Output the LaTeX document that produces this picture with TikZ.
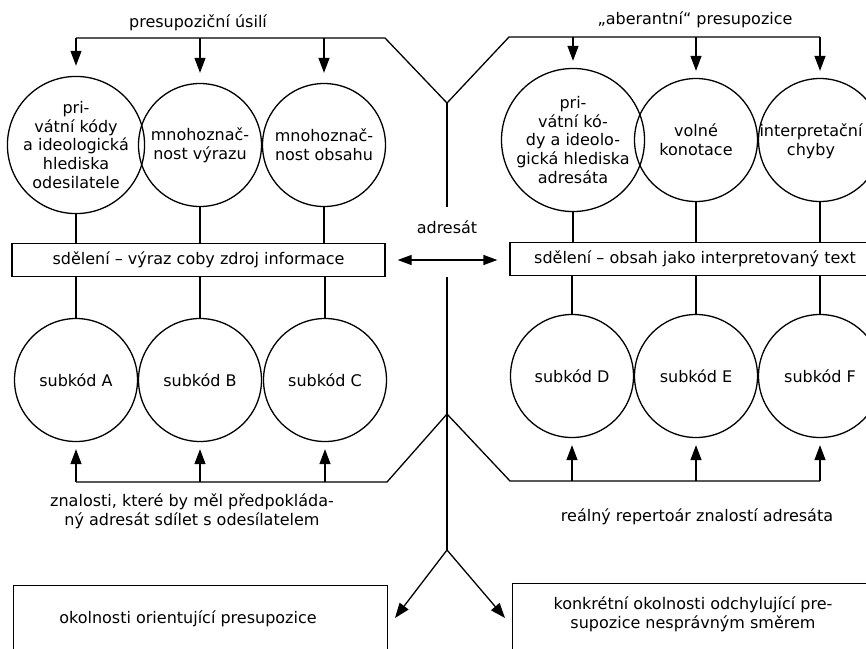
\documentclass[tikz,border=0pt]{standalone}
\usepackage{fontspec}
\setmainfont{DejaVu Sans}
\usetikzlibrary{arrows.meta}
\newcommand\txtf{\fontsize{16}{18.8}\selectfont}
\begin{document}
\begin{tikzpicture}[x=1pt,y=-1pt, line width=1.3pt,
  circ/.style={draw, circle, minimum size=123pt, inner sep=0pt, align=center, font=\txtf},
  bar/.style={draw, rectangle, inner sep=0pt, minimum height=33pt, font=\txtf},
  lbl/.style={align=center, font=\txtf, inner sep=0pt},
  boxx/.style={draw, rectangle, inner sep=0pt, anchor=north west, minimum height=100pt},
  arr/.style={-{Triangle[length=15pt,width=11pt]}},
  darr/.style={{Triangle[length=14pt,width=10pt]}-{Triangle[length=14pt,width=10pt]}}]
\useasboundingbox (0,0) rectangle (866,648);

% top row circles
\node[circ] (p1) at (76,145) {pri-\\vátní kódy\\a ideologická\\hlediska\\odesilatele};
\node[circ] (p2) at (200,145) {mnohoznač-\\nost výrazu};
\node[circ] (p3) at (324,145) {mnohoznač-\\nost obsahu};
\node[circ] (q1) at (573,140) {pri-\\vátní kó-\\dy a ideolo-\\gická hlediska\\adresáta};
\node[circ] (q2) at (696,140) {volné\\konotace};
\node[circ] (q3) at (820,140) {};
\node[lbl] (q3t) at (811,141) {interpretační\\chyby};

% bars
\node[bar, minimum width=373pt] (mL) at (198.5,260) {sdělení – výraz coby zdroj informace};
\node[bar, minimum width=370pt] (mR) at (695,259) {sdělení – obsah jako interpretovaný text};

% bottom row circles
\node[circ] (sA) at (76,380) {subkód A};
\node[circ] (sB) at (200,380) {subkód B};
\node[circ] (sC) at (325,380) {subkód C};
\node[circ] (sD) at (572,376) {subkód D};
\node[circ] (sE) at (696,376) {subkód E};
\node[circ] (sF) at (820,376) {subkód F};

% bottom boxes
\node[boxx, minimum width=374pt] (boxL) at (13,585) {};
\node[boxx, minimum width=380pt] (boxR) at (512,583) {};
\node[lbl] (tBL) at (188,619) {okolnosti orientující presupozice};
\node[lbl] (tBR) at (693,614) {konkrétní okolnosti odchylující pre-\\supozice nesprávným směrem};

% labels
\node[lbl] (lTop) at (198,23) {presupoziční úsilí};
\node[lbl] (rTop) at (695,20) {„aberantní“ presupozice};
\node[lbl] (adr) at (447,227) {adresát};
\node[lbl] (lBot) at (192,511) {znalosti, které by měl předpokláda-\\ný adresát sdílet s odesílatelem};
\node[lbl] (rBot) at (697,517) {reálný repertoár znalostí adresáta};

% coordinates of the branching line
\coordinate (tL) at (385,38);
\coordinate (vt) at (447,103);
\coordinate (tR) at (509,37);
\coordinate (adrTop) at (447,207);
\coordinate (vb) at (447,277);
\coordinate (j1) at (447,414);
\coordinate (j2) at (447,550);
\coordinate (bL) at (387,482);
\coordinate (bR) at (510,481);
\coordinate (aL) at (395,618);
\coordinate (aR) at (505,618);

% top distribution line
\draw (p1.north |- tL) -- (tL) -- (vt) -- (tR) -- (q3.north |- tR);
\foreach \n in {p1,p2,p3} \draw[arr, shorten >=10pt] (\n.north |- tL) -- (\n.north);
\foreach \n in {q1,q2,q3} \draw[arr, shorten >=7pt] (\n.north |- tR) -- (\n.north);

% circles to bars
\foreach \n in {p1,p2,p3} \draw (\n.south) -- (\n.south |- mL.north);
\foreach \n in {sA,sB,sC} \draw (\n.north |- mL.south) -- (\n.north);
\foreach \n in {q1,q2,q3} \draw (\n.south) -- (\n.south |- mR.north);
\foreach \n in {sD,sE,sF} \draw (\n.north |- mR.south) -- (\n.north);

% central axis
\draw (vt) -- (adrTop);
\draw[darr] ([xshift=12pt]mL.east) -- ([xshift=-12pt]mL.east -| mR.west);
\draw (vb) -- (j2);

% bottom gathering lines
\draw (sA.south |- bL) -- (bL) -- (j1) -- (bR) -- (sF.south |- bR);
\foreach \n in {sA,sB,sC} \draw[arr, shorten >=7pt] (\n.south |- bL) -- (\n.south);
\foreach \n in {sD,sE,sF} \draw[arr, shorten >=7pt] (\n.south |- bR) -- (\n.south);

% to bottom boxes
\draw[arr] (j2) -- (aL);
\draw[arr] (j2) -- (aR);
\end{tikzpicture}
\end{document}
